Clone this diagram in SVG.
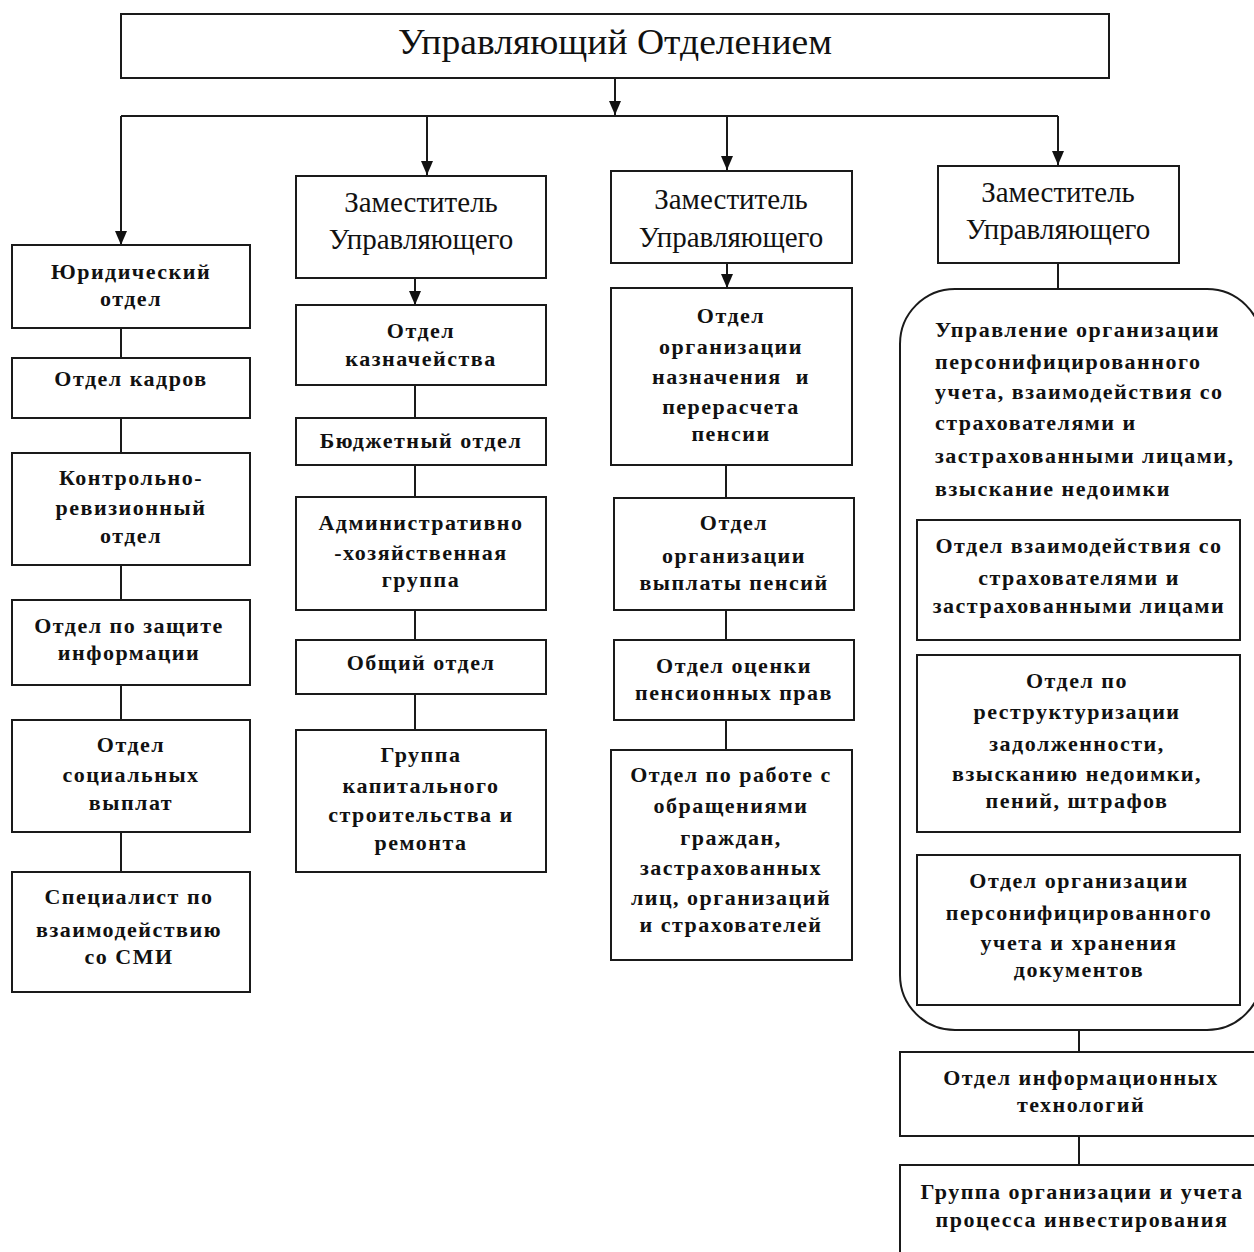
<svg xmlns="http://www.w3.org/2000/svg" width="1254" height="1252" viewBox="0 0 1254 1252">
<defs>
<marker id="arr" markerWidth="14" markerHeight="12" refX="14" refY="6" orient="auto" markerUnits="userSpaceOnUse" viewBox="0 0 14 12">
<path d="M0,0 L14,6 L0,12 Z" fill="#111"/>
</marker>
<style>
.box{fill:#fff;stroke:#1a1a1a;stroke-width:2}
.ln{stroke:#1a1a1a;stroke-width:2;fill:none}
.ar{stroke:#1a1a1a;stroke-width:2;fill:none;marker-end:url(#arr)}
.t{font-family:"Liberation Serif","Times New Roman",serif;font-size:22px;font-weight:bold;fill:#111;text-anchor:middle;letter-spacing:1.5px}
.tl{font-family:"Liberation Serif","Times New Roman",serif;font-size:22px;font-weight:bold;fill:#111;letter-spacing:1.5px}
.d{font-family:"Liberation Serif","Times New Roman",serif;font-size:29px;fill:#111;text-anchor:middle}
.h{font-family:"Liberation Serif","Times New Roman",serif;font-size:36px;fill:#111;text-anchor:middle}
</style>
</defs>
<rect width="1254" height="1252" fill="#fff"/>

<g id="connectors">
<path class="ar" d="M615,78 V115"/>
<path class="ln" d="M121,116 H1058"/>
<path class="ar" d="M121,116 V245"/>
<path class="ar" d="M427,116 V175"/>
<path class="ar" d="M727,116 V170"/>
<path class="ar" d="M1058,116 V165"/>
<path class="ln" d="M121,328 V358 M121,418 V453 M121,565 V600 M121,685 V720 M121,832 V872"/>
<path class="ar" d="M415,278 V305"/>
<path class="ln" d="M415,385 V418 M415,465 V497 M415,610 V640 M415,694 V730"/>
<path class="ar" d="M727,263 V288"/>
<path class="ln" d="M726,465 V498 M726,610 V640 M726,720 V750"/>
<path class="ln" d="M1058,263 V289 M1079,1030 V1052 M1079,1136 V1165"/>
</g>

<g id="n-top"><rect class="box" x="121" y="14" width="988" height="64"/><text class="h" x="615" y="54" textLength="434" lengthAdjust="spacingAndGlyphs">Управляющий Отделением</text></g>

<g id="n-yur"><rect class="box" x="12" y="245" width="238" height="83"/><text class="t" x="131" y="279">Юридический</text><text class="t" x="131" y="306">отдел</text></g>
<g id="n-kadr"><rect class="box" x="12" y="358" width="238" height="60"/><text class="t" x="131" y="386">Отдел кадров</text></g>
<g id="n-kru"><rect class="box" x="12" y="453" width="238" height="112"/><text class="t" x="131" y="485">Контрольно-</text><text class="t" x="131" y="515">ревизионный</text><text class="t" x="131" y="543">отдел</text></g>
<g id="n-zi"><rect class="box" x="12" y="600" width="238" height="85"/><text class="t" x="129" y="633">Отдел по защите</text><text class="t" x="129" y="660">информации</text></g>
<g id="n-sv"><rect class="box" x="12" y="720" width="238" height="112"/><text class="t" x="131" y="752">Отдел</text><text class="t" x="131" y="782">социальных</text><text class="t" x="131" y="810">выплат</text></g>
<g id="n-smi"><rect class="box" x="12" y="872" width="238" height="120"/><text class="t" x="129" y="904">Специалист по</text><text class="t" x="129" y="937">взаимодействию</text><text class="t" x="129" y="964">со СМИ</text></g>

<g id="n-zam1"><rect class="box" x="296" y="176" width="250" height="102"/><text class="d" x="421" y="212">Заместитель</text><text class="d" x="421" y="249">Управляющего</text></g>
<g id="n-kazn"><rect class="box" x="296" y="305" width="250" height="80"/><text class="t" x="421" y="338">Отдел</text><text class="t" x="421" y="366">казначейства</text></g>
<g id="n-bud"><rect class="box" x="296" y="418" width="250" height="47"/><text class="t" x="421" y="448">Бюджетный отдел</text></g>
<g id="n-ahg"><rect class="box" x="296" y="497" width="250" height="113"/><text class="t" x="421" y="530">Административно</text><text class="t" x="421" y="560">-хозяйственная</text><text class="t" x="421" y="587">группа</text></g>
<g id="n-ob"><rect class="box" x="296" y="640" width="250" height="54"/><text class="t" x="421" y="670">Общий отдел</text></g>
<g id="n-ks"><rect class="box" x="296" y="730" width="250" height="142"/><text class="t" x="421" y="762">Группа</text><text class="t" x="421" y="793">капитального</text><text class="t" x="421" y="822">строительства и</text><text class="t" x="421" y="850">ремонта</text></g>

<g id="n-zam2"><rect class="box" x="611" y="171" width="241" height="92"/><text class="d" x="731" y="209">Заместитель</text><text class="d" x="731" y="247">Управляющего</text></g>
<g id="n-nazn"><rect class="box" x="611" y="288" width="241" height="177"/><text class="t" x="731" y="323">Отдел</text><text class="t" x="731" y="354">организации</text><text class="t" x="731" y="384" xml:space="preserve">назначения  и</text><text class="t" x="731" y="414">перерасчета</text><text class="t" x="731" y="441">пенсии</text></g>
<g id="n-vypl"><rect class="box" x="614" y="498" width="240" height="112"/><text class="t" x="734" y="530">Отдел</text><text class="t" x="734" y="563">организации</text><text class="t" x="734" y="590">выплаты пенсий</text></g>
<g id="n-ocen"><rect class="box" x="614" y="640" width="240" height="80"/><text class="t" x="734" y="673">Отдел оценки</text><text class="t" x="734" y="700">пенсионных прав</text></g>
<g id="n-obr"><rect class="box" x="611" y="750" width="241" height="210"/><text class="t" x="731" y="782">Отдел по работе с</text><text class="t" x="731" y="813">обращениями</text><text class="t" x="731" y="845">граждан,</text><text class="t" x="731" y="875">застрахованных</text><text class="t" x="731" y="905">лиц, организаций</text><text class="t" x="731" y="932">и страхователей</text></g>

<g id="n-zam3"><rect class="box" x="938" y="166" width="241" height="97"/><text class="d" x="1058" y="202">Заместитель</text><text class="d" x="1058" y="239">Управляющего</text></g>
<g id="n-upr"><rect class="box" x="900" y="289" width="362" height="741" rx="55" ry="55"/>
<text class="tl" x="935" y="337">Управление организации</text><text class="tl" x="935" y="369">персонифицированного</text><text class="tl" x="935" y="399">учета, взаимодействия со</text><text class="tl" x="935" y="430">страхователями и</text><text class="tl" x="935" y="463">застрахованными лицами,</text><text class="tl" x="935" y="496">взыскание недоимки</text></g>
<g id="n-vz"><rect class="box" x="917" y="520" width="323" height="120"/><text class="t" x="1079" y="553">Отдел взаимодействия со</text><text class="t" x="1079" y="585">страхователями и</text><text class="t" x="1079" y="613">застрахованными лицами</text></g>
<g id="n-restr"><rect class="box" x="917" y="655" width="323" height="177"/><text class="t" x="1077" y="688">Отдел по</text><text class="t" x="1077" y="719">реструктуризации</text><text class="t" x="1077" y="751">задолженности,</text><text class="t" x="1077" y="781">взысканию недоимки,</text><text class="t" x="1077" y="808">пений, штрафов</text></g>
<g id="n-pers"><rect class="box" x="917" y="855" width="323" height="150"/><text class="t" x="1079" y="888">Отдел организации</text><text class="t" x="1079" y="920">персонифицированного</text><text class="t" x="1079" y="950">учета и хранения</text><text class="t" x="1079" y="977">документов</text></g>
<g id="n-it"><rect class="box" x="900" y="1052" width="362" height="84"/><text class="t" x="1081" y="1085">Отдел информационных</text><text class="t" x="1081" y="1112">технологий</text></g>
<g id="n-inv"><rect class="box" x="900" y="1165" width="362" height="100"/><text class="t" x="1082" y="1199">Группа организации и учета</text><text class="t" x="1082" y="1227">процесса инвестирования</text></g>
</svg>
